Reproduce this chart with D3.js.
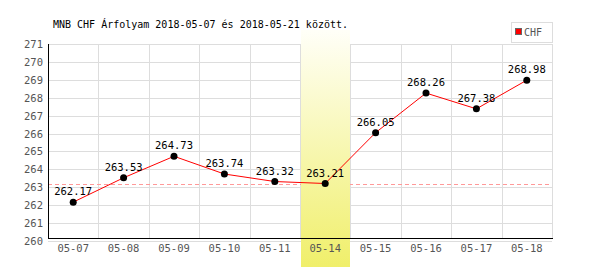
<!DOCTYPE html>
<html>
<head>
<meta charset="utf-8">
<script src="https://cdn.jsdelivr.net/npm/d3@7"></script>
<style>
  body { margin: 0; background: #fff; }
  svg text { font-family: "DejaVu Sans Mono", monospace; }
</style>
</head>
<body>
<div id="chart"></div>
<script>
// MNB CHF exchange rate, 2018-05-07 .. 2018-05-18
const dates = ["05-07", "05-08", "05-09", "05-10", "05-11", "05-14", "05-15", "05-16", "05-17", "05-18"];
const rates = [262.17, 263.53, 264.73, 263.74, 263.32, 263.21, 266.05, 268.26, 267.38, 268.98];
const yTicks = [260, 261, 262, 263, 264, 265, 266, 267, 268, 269, 270, 271];
const highlightDate = "05-14";
const refRate = 263.21;
const titleText = "MNB CHF Árfolyam 2018-05-07 és 2018-05-21 között.";
const seriesName = "CHF";

const width = 600, height = 270;
const plotLeft = 48, plotRight = 552, plotTop = 44, plotBottom = 241;

const svg = d3.select("#chart").append("svg")
    .attr("width", width)
    .attr("height", height);

const x = d3.scaleBand().domain(dates).range([plotLeft, plotRight]);
const y = d3.scaleLinear().domain([260, 271]).range([plotBottom, plotTop]);

// highlight gradient
const grad = svg.append("defs").append("linearGradient")
    .attr("id", "hl").attr("x1", 0).attr("y1", 0).attr("x2", 0).attr("y2", 1);
grad.append("stop").attr("offset", "0%").attr("stop-color", "#fffff8");
grad.append("stop").attr("offset", "100%").attr("stop-color", "#f0ef6a");

// grid
svg.append("g")
    .selectAll("line")
    .data(yTicks)
    .enter().append("line")
    .attr("x1", plotLeft).attr("x2", plotRight)
    .attr("y1", d => Math.round(y(d)) + 0.5)
    .attr("y2", d => Math.round(y(d)) + 0.5)
    .attr("stroke", "#dddddd");

svg.append("g")
    .selectAll("line")
    .data(dates)
    .enter().append("line")
    .attr("x1", d => Math.round(x(d) + x.bandwidth()) + 0.5)
    .attr("x2", d => Math.round(x(d) + x.bandwidth()) + 0.5)
    .attr("y1", plotTop).attr("y2", plotBottom - 3)
    .attr("stroke", "#dddddd");

// reference dashed line
svg.append("line")
    .attr("x1", plotLeft).attr("x2", plotRight)
    .attr("y1", Math.round(y(refRate)) + 0.5)
    .attr("y2", Math.round(y(refRate)) + 0.5)
    .attr("stroke", "#ff9999")
    .attr("stroke-dasharray", "4,3");

// highlighted day
svg.append("rect")
    .attr("x", Math.round(x(highlightDate)) + 1)
    .attr("y", 30)
    .attr("width", Math.round(x.bandwidth()) - 1)
    .attr("height", 237)
    .attr("fill", "url(#hl)");

// axes lines
svg.append("line")
    .attr("x1", plotLeft + 0.5).attr("x2", plotLeft + 0.5)
    .attr("y1", plotTop).attr("y2", plotBottom - 3)
    .attr("stroke", "#000");
svg.append("line")
    .attr("x1", plotLeft).attr("x2", plotRight + 1)
    .attr("y1", plotBottom - 2.5).attr("y2", plotBottom - 2.5)
    .attr("stroke", "#000");

// y tick labels
svg.append("g")
    .selectAll("text")
    .data(yTicks)
    .enter().append("text")
    .attr("x", 43)
    .attr("y", d => y(d) + 4)
    .attr("text-anchor", "end")
    .attr("font-size", "10.5px")
    .attr("fill", "#555")
    .text(d => d);

// x tick labels
svg.append("g")
    .selectAll("text")
    .data(dates)
    .enter().append("text")
    .attr("x", d => x(d) + x.bandwidth() / 2)
    .attr("y", 252)
    .attr("text-anchor", "middle")
    .attr("font-size", "10.5px")
    .attr("fill", "#555")
    .text(d => d);

// series line
const line = d3.line()
    .x((d, i) => x(dates[i]) + x.bandwidth() / 2)
    .y(d => y(d));

svg.append("path")
    .datum(rates)
    .attr("d", line)
    .attr("fill", "none")
    .attr("stroke", "#ff0000")
    .attr("stroke-width", 1);

svg.append("g")
    .selectAll("circle")
    .data(rates)
    .enter().append("circle")
    .attr("cx", (d, i) => x(dates[i]) + x.bandwidth() / 2)
    .attr("cy", d => y(d))
    .attr("r", 3.5)
    .attr("fill", "#000");

svg.append("g")
    .selectAll("text")
    .data(rates)
    .enter().append("text")
    .attr("x", (d, i) => x(dates[i]) + x.bandwidth() / 2)
    .attr("y", d => y(d) - 7)
    .attr("text-anchor", "middle")
    .attr("font-size", "10.5px")
    .attr("fill", "#000")
    .text(d => d.toFixed(2));

// title
svg.append("text")
    .attr("x", 53)
    .attr("y", 28)
    .attr("font-size", "10px")
    .attr("fill", "#000")
    .text(titleText);

// legend
const legend = svg.append("g");
legend.append("rect")
    .attr("x", 511.5).attr("y", 22.5)
    .attr("width", 41).attr("height", 20)
    .attr("fill", "#fff")
    .attr("stroke", "#dddddd");
legend.append("rect")
    .attr("x", 515.5).attr("y", 28.5)
    .attr("width", 6).attr("height", 6)
    .attr("fill", "#ff0000")
    .attr("stroke", "#666");
legend.append("text")
    .attr("x", 524)
    .attr("y", 36)
    .attr("font-family", "'Liberation Sans', Arial, sans-serif")
    .attr("font-size", "10px")
    .attr("fill", "#555")
    .text(seriesName);
</script>
</body>
</html>
